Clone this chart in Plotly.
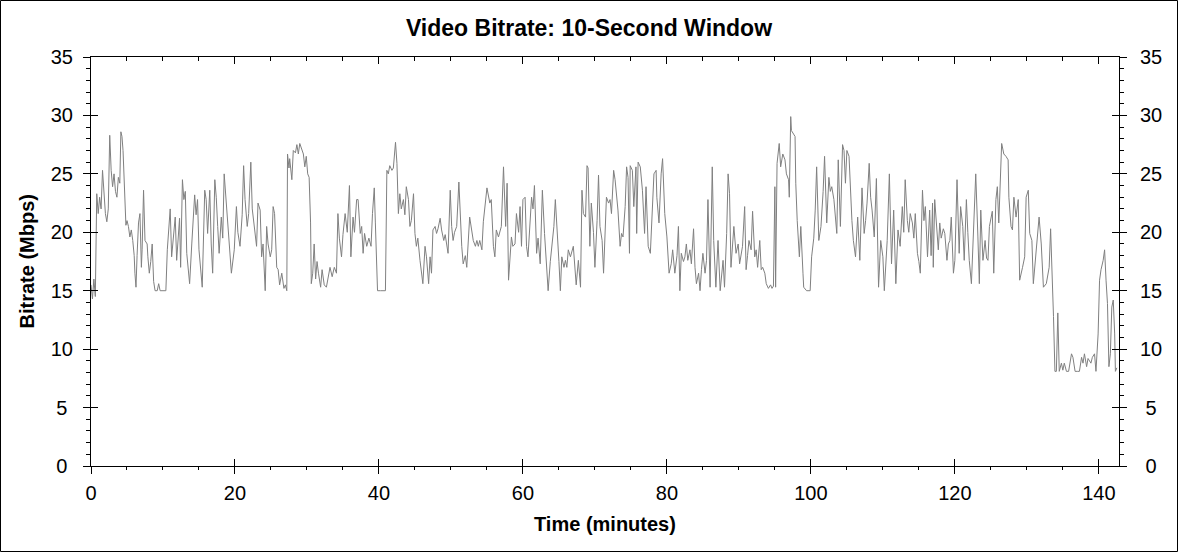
import plotly.graph_objects as go

# 데이터: 그림에서 읽은 시간(분)과 비트레이트(Mbps)
minutes = [
    0.0, 0.2, 0.4, 0.6, 0.8, 1.0, 1.2, 1.4, 1.6, 1.8,
    2.0, 2.2, 2.4, 2.6, 2.8, 3.0, 3.2, 3.4, 3.6, 3.8,
    4.0, 4.15, 4.3, 4.45, 4.6, 4.7, 4.85, 5.0, 5.2, 5.4,
    5.6, 5.8, 6.0, 6.1, 6.25, 6.4, 6.6, 6.8, 7.0, 7.1,
    7.3, 7.5, 7.8, 7.9, 8.1, 8.3, 8.5, 8.7, 8.9, 9.2,
    9.4, 9.6, 10.0, 10.4, 10.6, 10.8, 11.0, 11.2, 11.5, 11.7,
    11.9, 12.1, 12.3, 12.45, 12.7, 12.9, 13.1, 13.3, 13.5, 13.7,
    14.0, 14.2, 14.4, 14.6, 14.8, 15.0, 15.2, 15.45, 15.8, 16.0,
    16.2, 16.5, 16.7, 16.9, 17.2, 17.4, 17.6, 17.8, 18.1, 18.3,
    18.5, 18.7, 18.9, 19.1, 19.3, 19.5, 19.9, 20.2, 20.4, 20.7,
    21.0, 21.2, 21.4, 21.7, 21.9, 22.2, 22.4, 22.6, 22.8, 23.0,
    23.2, 23.5, 23.7, 23.9, 24.2, 24.4, 24.6, 24.9, 25.1, 25.3,
    25.5, 25.8, 26.0, 26.2, 26.5, 26.8, 27.0, 27.2, 27.3, 27.5,
    27.6, 27.9, 28.1, 28.4, 28.6, 28.8, 29.0, 29.3, 29.5, 29.7,
    29.9, 30.1, 30.3, 30.5, 30.6, 30.8, 31.0, 31.2, 31.4, 31.6,
    31.9, 32.1, 32.4, 32.7, 33.0, 33.2, 33.5, 33.8, 34.1, 34.3,
    34.5, 34.8, 35.0, 35.3, 35.6, 35.9, 36.1, 36.4, 36.6, 36.9,
    37.1, 37.4, 37.6, 37.8, 38.0, 38.3, 38.6, 38.9, 39.1, 39.35,
    39.5, 39.7, 39.8, 40.2, 40.6, 40.9, 41.1, 41.3, 41.5, 41.8,
    42.0, 42.3, 42.5, 42.7, 42.9, 43.1, 43.4, 43.6, 43.8, 44.1,
    44.3, 44.5, 44.8, 45.0, 45.2, 45.4, 45.7, 45.9, 46.1, 46.4,
    46.6, 46.9, 47.1, 47.3, 47.5, 47.8, 48.0, 48.2, 48.5, 48.7,
    49.0, 49.2, 49.6, 49.9, 50.1, 50.3, 50.5, 50.8, 51.1, 51.5,
    51.7, 52.0, 52.2, 52.6, 52.9, 53.1, 53.4, 53.6, 53.8, 54.0,
    54.3, 54.5, 55.0, 55.2, 55.4, 55.6, 55.9, 56.1, 56.3, 56.6,
    56.8, 57.0, 57.3, 57.6, 57.8, 58.0, 58.4, 58.6, 58.9, 59.1,
    59.4, 59.6, 59.8, 60.0, 60.3, 60.5, 60.7, 61.0, 61.2, 61.4,
    61.6, 61.9, 62.1, 62.4, 62.7, 63.0, 63.2, 63.5, 63.8, 64.0,
    64.3, 64.5, 64.7, 65.0, 65.2, 65.4, 65.7, 65.9, 66.1, 66.3,
    66.6, 66.8, 67.0, 67.4, 67.7, 68.0, 68.2, 68.4, 68.7, 68.9,
    69.05, 69.3, 69.5, 69.8, 70.0, 70.3, 70.5, 70.7, 71.0, 71.2,
    71.4, 71.6, 71.9, 72.1, 72.3, 72.6, 72.8, 73.0, 73.2, 73.5,
    73.7, 73.9, 74.2, 74.4, 74.6, 74.8, 74.9, 75.2, 75.4, 75.7,
    75.8, 76.0, 76.3, 76.6, 76.9, 77.1, 77.4, 77.7, 78.0, 78.2,
    78.5, 78.6, 78.9, 79.2, 79.4, 79.7, 80.0, 80.3, 80.6, 80.8,
    81.1, 81.4, 81.6, 81.8, 82.0, 82.3, 82.5, 82.7, 82.9, 83.2,
    83.4, 83.7, 83.9, 84.1, 84.4, 84.6, 84.8, 85.0, 85.3, 85.5,
    85.7, 86.0, 86.3, 86.5, 86.8, 87.1, 87.4, 87.8, 88.0, 88.3,
    88.5, 88.7, 88.9, 89.1, 89.3, 89.6, 89.9, 90.1, 90.3, 90.5,
    90.8, 91.0, 91.2, 91.4, 91.7, 91.9, 92.2, 92.4, 92.6, 92.9,
    93.1, 93.3, 93.6, 93.8, 94.1, 94.4, 94.6, 94.8, 95.0, 95.1,
    95.3, 95.6, 95.8, 96.1, 96.4, 96.6, 96.9, 97.0, 97.2, 97.3,
    97.6, 97.8, 97.9, 98.1, 98.4, 98.6, 98.9, 99.0, 99.4, 99.9,
    100.1, 100.4, 100.6, 100.8, 101.1, 101.4, 101.7, 101.9, 102.2, 102.5,
    102.7, 102.9, 103.2, 103.6, 103.8, 104.1, 104.4, 104.6, 104.8, 105.0,
    105.3, 105.5, 105.7, 105.9, 106.2, 106.5, 106.8, 107.1, 107.4, 107.6,
    107.8, 108.1, 108.3, 108.5, 108.8, 109.1, 109.4, 109.7, 110.0, 110.2,
    110.4, 110.6, 110.9, 111.2, 111.5, 111.8, 112.1, 112.4, 112.7, 112.9,
    113.1, 113.4, 113.6, 113.8, 114.1, 114.3, 114.5, 114.8, 115.0, 115.2,
    115.5, 115.7, 115.9, 116.2, 116.5, 116.7, 116.9, 117.0, 117.2, 117.5,
    117.7, 117.9, 118.1, 118.4, 118.6, 118.9, 119.1, 119.3, 119.5, 119.8,
    120.0, 120.3, 120.6, 120.8, 121.1, 121.3, 121.6, 121.8, 122.0, 122.3,
    122.6, 122.9, 123.2, 123.4, 123.6, 123.9, 124.2, 124.4, 124.6, 124.8,
    125.2, 125.4, 125.7, 125.9, 126.1, 126.3, 126.5, 126.8, 127.1, 127.4,
    127.5, 127.8, 128.0, 128.2, 128.5, 128.8, 129.0, 129.4, 129.7, 129.9,
    130.2, 130.4, 130.7, 130.9, 131.2, 131.5, 131.7, 132.0, 132.3, 132.7,
    133.1, 133.3, 133.5, 133.7, 133.9, 134.1, 134.3, 134.5, 134.8, 135.0,
    135.2, 135.5, 135.8, 136.2, 136.4, 136.7, 137.0, 137.3, 137.6, 137.8,
    138.0, 138.3, 138.5, 138.9, 139.1, 139.4, 139.6, 139.9, 140.1, 140.3,
    140.6, 140.8, 141.0, 141.2, 141.4, 141.6, 141.8, 142.0, 142.2, 142.3,
    142.5,
]

mbps = [
    15.5, 14.3, 16.0, 14.5, 23.3, 21.6, 23.0, 22.0, 25.3, 23.0,
    21.6, 20.9, 22.0, 28.3, 25.3, 23.9, 25.0, 23.5, 23.0, 24.7,
    24.2, 28.6, 28.2, 27.0, 24.7, 22.0, 20.6, 21.0, 20.5, 19.6,
    20.2, 19.3, 18.0, 16.5, 15.3, 18.0, 20.8, 21.6, 17.0, 18.5,
    23.6, 19.3, 19.0, 17.9, 16.5, 17.5, 19.0, 15.8, 15.0, 15.0,
    15.6, 15.0, 15.0, 15.0, 18.5, 20.5, 22.0, 17.9, 20.0, 21.3,
    17.6, 19.5, 21.2, 17.0, 24.5, 22.8, 23.5, 18.2, 17.0, 15.6,
    19.0, 21.0, 23.2, 21.5, 22.8, 18.5, 17.0, 15.3, 23.6, 22.8,
    19.9, 23.6, 19.0, 16.5, 24.5, 23.0, 20.5, 18.2, 21.3, 19.5,
    25.0, 23.3, 21.0, 19.6, 18.0, 16.5, 18.5, 22.2, 20.0, 18.8,
    21.5, 25.7, 22.8, 20.5, 21.6, 26.0, 22.0, 20.8, 19.9, 18.8,
    22.5, 21.9, 17.9, 19.0, 15.0, 20.5, 19.0, 17.9, 18.5, 22.2,
    21.6, 17.0, 16.8, 15.5, 16.5, 15.2, 15.5, 15.0, 26.7, 25.5,
    26.3, 24.5, 27.0, 26.8, 27.5, 26.7, 27.6, 27.0, 26.7, 25.6,
    26.5, 25.0, 24.7, 20.8, 15.6, 16.5, 19.0, 16.0, 17.5, 16.5,
    15.3, 16.8, 15.5, 15.3, 16.5, 17.0, 16.2, 17.0, 16.5, 21.6,
    19.5, 17.9, 19.8, 21.6, 20.0, 24.0, 17.9, 21.3, 20.0, 22.8,
    22.8, 19.9, 20.5, 18.2, 19.9, 18.8, 19.5, 18.8, 21.6, 23.8,
    20.8, 17.6, 15.0, 15.0, 15.0, 15.0, 25.3, 25.0, 25.7, 25.3,
    25.5, 27.7, 25.9, 21.6, 23.3, 22.0, 22.8, 21.5, 23.9, 22.8,
    20.5, 21.0, 23.3, 19.9, 18.8, 19.5, 17.6, 16.5, 15.6, 18.8,
    17.9, 15.6, 17.9, 16.5, 20.2, 20.5, 19.9, 20.3, 21.2, 20.2,
    19.3, 19.8, 18.2, 23.6, 20.5, 19.3, 20.0, 20.5, 24.3, 18.8,
    17.3, 18.0, 17.0, 21.3, 20.0, 19.3, 18.8, 19.3, 18.8, 19.3,
    18.5, 20.9, 23.8, 23.0, 22.5, 22.8, 18.8, 17.9, 20.2, 19.6,
    20.0, 20.5, 25.6, 20.5, 24.2, 15.9, 19.6, 18.8, 19.0, 21.6,
    20.0, 22.2, 18.8, 22.8, 23.0, 18.8, 17.9, 20.5, 23.0, 22.0,
    24.0, 18.2, 19.5, 17.3, 23.6, 19.9, 18.0, 15.0, 17.5, 18.8,
    20.5, 22.8, 21.0, 17.5, 15.0, 17.9, 17.0, 17.6, 17.0, 18.5,
    17.9, 18.3, 18.8, 15.5, 17.6, 15.3, 23.6, 21.6, 21.3, 25.7,
    25.5, 18.8, 22.5, 20.0, 17.0, 21.0, 24.9, 20.5, 19.3, 16.5,
    19.5, 23.0, 22.5, 22.8, 21.6, 25.3, 24.5, 23.3, 21.9, 18.8,
    19.9, 19.6, 22.2, 25.6, 24.7, 18.2, 25.7, 25.3, 22.2, 25.6,
    19.9, 26.0, 25.6, 23.6, 19.9, 23.9, 18.8, 18.2, 22.0, 25.0,
    25.3, 23.0, 20.8, 25.0, 26.3, 21.6, 19.6, 16.5, 17.3, 18.5,
    16.5, 18.0, 20.5, 15.0, 18.2, 17.5, 17.9, 19.0, 17.6, 18.5,
    17.3, 20.3, 17.0, 15.6, 16.5, 15.0, 16.8, 18.2, 16.5, 17.6,
    22.8, 15.3, 25.6, 19.3, 15.3, 19.3, 15.0, 17.6, 15.3, 19.9,
    25.0, 23.3, 17.0, 18.5, 20.5, 18.2, 19.0, 17.3, 18.0, 18.8,
    22.2, 16.8, 18.0, 19.3, 18.5, 21.8, 17.9, 18.5, 17.0, 19.3,
    16.8, 17.0, 16.5, 15.6, 15.2, 15.5, 15.2, 15.4, 23.9, 15.3,
    25.9, 27.6, 25.6, 26.7, 26.2, 25.0, 24.5, 23.0, 29.9, 28.7,
    28.4, 28.2, 24.2, 21.0, 17.9, 20.5, 16.5, 15.3, 15.0, 15.0,
    17.9, 19.5, 21.9, 25.6, 19.3, 20.5, 23.5, 26.5, 20.8, 24.7,
    23.5, 23.9, 22.8, 19.9, 26.2, 20.5, 27.5, 27.0, 24.2, 27.0,
    26.5, 22.8, 21.0, 19.3, 17.9, 21.3, 17.6, 23.8, 19.9, 21.0,
    22.5, 25.9, 23.0, 21.9, 19.6, 24.6, 15.3, 19.3, 17.9, 15.0,
    17.5, 19.3, 25.0, 17.3, 21.9, 15.6, 20.2, 18.8, 22.2, 20.0,
    24.5, 21.0, 20.0, 21.6, 20.8, 19.5, 21.6, 18.2, 17.5, 16.5,
    23.6, 21.0, 22.2, 17.9, 21.9, 18.0, 22.5, 17.0, 22.8, 20.5,
    18.5, 20.8, 19.5, 20.3, 19.9, 17.6, 19.0, 19.3, 21.3, 16.5,
    17.6, 24.5, 18.2, 22.2, 20.5, 17.6, 22.8, 20.0, 17.6, 15.6,
    20.5, 25.0, 19.6, 15.6, 21.9, 17.6, 19.3, 17.8, 17.6, 20.5,
    21.8, 16.5, 22.8, 23.9, 20.8, 24.2, 27.6, 26.7, 26.5, 26.2,
    23.0, 20.5, 20.2, 23.0, 21.3, 22.8, 15.9, 17.0, 17.9, 23.0,
    23.6, 19.9, 19.3, 15.6, 17.6, 19.6, 21.3, 19.0, 15.3, 15.6,
    17.0, 20.3, 17.0, 12.8, 8.1, 8.1, 13.1, 8.1, 8.8, 8.2,
    8.8, 8.1, 8.1, 9.6, 9.3, 8.1, 8.1, 8.1, 9.3, 8.8,
    9.6, 8.5, 9.2, 8.8, 9.3, 9.6, 8.1, 11.3, 15.9, 16.8,
    17.6, 18.5, 15.9, 13.9, 8.5, 9.6, 13.6, 14.2, 11.3, 8.1,
    8.4,
]

x_range = [0, 142.8]
y_range = [0, 35]
y_ticks = [0, 5, 10, 15, 20, 25, 30, 35]

W, H = 1178, 552
L, R, T, B = 91, 59, 57, 86
pw, ph = W - L - R, H - T - B

font_main = "Arial, Liberation Sans, sans-serif"

# 눈금 라벨 가운데 정렬 효과 (한 자리 숫자에 공백 추가)
left_labels = [str(v) if v >= 10 else str(v) + '\u00a0' for v in y_ticks]
right_labels = [str(v) if v >= 10 else '\u00a0' + str(v) for v in y_ticks]

fig = go.Figure()
fig.add_trace(go.Scatter(
    x=minutes, y=mbps,
    mode='lines',
    line=dict(color='#808080', width=1),
    showlegend=False,
    hoverinfo='x+y',
))

# 보조 축을 그리기 위한 빈 trace (데이터 없음)
for xa, ya in [('x2', 'y'), ('x3', 'y'), ('x', 'y2'), ('x', 'y3'), ('x', 'y4')]:
    fig.add_trace(go.Scatter(x=[], y=[], xaxis=xa, yaxis=ya,
                             showlegend=False, hoverinfo='skip'))

# 공통 축 스타일
axis_common = dict(showgrid=False, zeroline=False, linecolor='black', linewidth=1,
                   tickcolor='black', tickwidth=1, fixedrange=True,
                   tickfont=dict(family=font_main, size=20, color='black'))
minor_style = dict(tickcolor='black', tickwidth=1)

fig.update_layout(
    width=W, height=H,
    margin=dict(l=L, r=R, t=T, b=B),
    paper_bgcolor='white', plot_bgcolor='white',
    title=dict(text='<b>Video Bitrate: 10-Second Window</b>',
               x=0.5, xref='container', y=1 - 28 / H, yref='container',
               xanchor='center', yanchor='middle',
               font=dict(family=font_main, size=23, color='black')),
    # 아래쪽 x축 (바깥 눈금 + 라벨)
    xaxis=dict(axis_common, range=x_range, dtick=20, tick0=0,
               ticks='outside', ticklen=7, showline=True, ticklabelstandoff=2,
               minor=dict(minor_style, dtick=5, tick0=0, ticks='outside', ticklen=3)),
    # 아래쪽 안쪽 눈금
    xaxis2=dict(axis_common, range=x_range, dtick=20, tick0=0, overlaying='x',
                anchor='y', side='bottom', ticks='inside', ticklen=7,
                showticklabels=False, showline=False),
    # 위쪽 테두리와 안쪽 눈금
    xaxis3=dict(axis_common, range=x_range, dtick=20, tick0=0, overlaying='x',
                anchor='y', side='top', ticks='inside', ticklen=7,
                showticklabels=False, showline=True,
                minor=dict(minor_style, dtick=5, tick0=0, ticks='inside', ticklen=4)),
    yaxis=dict(axis_common, range=y_range, tickvals=y_ticks, ticktext=left_labels,
               ticks='outside', ticklen=7, showline=True, ticklabelstandoff=6,
               minor=dict(minor_style, dtick=1, tick0=0, ticks='outside', ticklen=4)),
    yaxis2=dict(axis_common, range=y_range, tickvals=y_ticks, overlaying='y',
                anchor='x', side='left', ticks='inside', ticklen=7,
                showticklabels=False, showline=False),
    yaxis3=dict(axis_common, range=y_range, tickvals=y_ticks, ticktext=right_labels,
                overlaying='y', anchor='x', side='right', ticks='outside', ticklen=7,
                showticklabels=True, showline=True, ticklabelstandoff=9,
                minor=dict(minor_style, dtick=1, tick0=0, ticks='outside', ticklen=4)),
    yaxis4=dict(axis_common, range=y_range, tickvals=y_ticks, overlaying='y',
                anchor='x', side='right', ticks='inside', ticklen=7,
                showticklabels=False, showline=False),
)

# 축 제목
fig.add_annotation(text='<b>Time (minutes)</b>', xref='paper', yref='paper',
                   x=0.5, y=-(524 - (T + ph)) / ph, xanchor='center', yanchor='middle',
                   showarrow=False, font=dict(family=font_main, size=20, color='black'))
fig.add_annotation(text='<b>Bitrate (Mbps)</b>', xref='paper', yref='paper',
                   x=(26 - L) / pw, y=0.5, xanchor='center', yanchor='middle',
                   textangle=-90, showarrow=False,
                   font=dict(family=font_main, size=20, color='black'))

# 바깥 테두리
fig.add_shape(type='rect', xref='paper', yref='paper',
              x0=-(L - 0.5) / pw, x1=(W - L - 0.5) / pw,
              y0=-(B - 0.5) / ph, y1=1 + (T - 0.5) / ph,
              line=dict(color='black', width=1), layer='above')

# 페이지 여백 제거
fig.write_html("out.html", config={'displayModeBar': False},
               post_script="document.body.style.margin='0px';")
